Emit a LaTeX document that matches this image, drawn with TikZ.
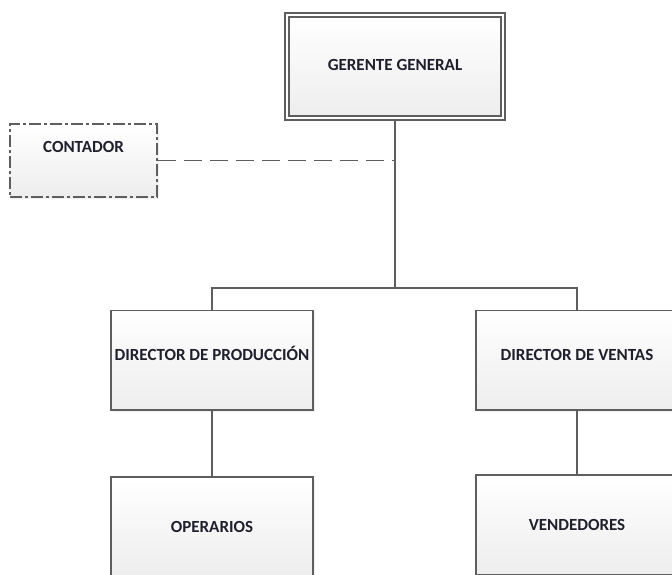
\documentclass[tikz,border=0pt]{standalone}
\usepackage{fontspec}
\setmainfont{Carlito}
\usetikzlibrary{positioning,shadows}
\definecolor{OrgLine}{HTML}{5E5E5E}
\definecolor{OrgText}{HTML}{1F1F2E}

\begin{document}
\begin{tikzpicture}[x=1pt,y=1pt,
  orgbox/.style={draw=OrgLine,line width=1.5pt,top color=white,bottom color=black!7,
    font=\fontsize{17}{20}\selectfont\bfseries,text=OrgText,inner sep=2pt,
    minimum width=202pt,minimum height=99.5pt,text height=12pt,text depth=1pt,
    drop shadow={shadow xshift=2pt,shadow yshift=-2pt,opacity=0.12}},
  link/.style={draw=OrgLine,line width=1.5pt}]
  \useasboundingbox (0,0) rectangle (672,-575);
  \clip (0,0) rectangle (672,-575);
  \node[orgbox,double=white,double distance=2.2pt,line width=1.6pt,outer sep=2.7pt,
    minimum width=216pt,minimum height=103pt,text depth=4pt] (gerente) at (395,-66.5) {GERENTE GENERAL};
  \node[orgbox,dash pattern=on 12pt off 3pt on 3pt off 3pt,minimum width=147pt,
    minimum height=73pt,text depth=28pt] (contador) at (83.5,-160.5) {CONTADOR};
  \node[orgbox,text depth=11pt] (dirprod) at (212,-360.25) {DIRECTOR DE PRODUCCIÓN};
  \node[orgbox,text depth=11pt,right=161.5pt of dirprod] (dirventas) {DIRECTOR DE VENTAS};
  \node[orgbox,minimum height=100pt,below=65.5pt of dirprod] (operarios) {OPERARIOS};
  \node[orgbox,minimum height=100pt,below=63.5pt of dirventas] (vendedores) {VENDEDORES};
  % lineas de mando
  \draw[link] (gerente.south) -- ++(0,-167.3) coordinate (bar);
  \draw[link] (dirprod.north) |- (bar) -| (dirventas.north);
  \draw[link] (dirprod) -- (operarios);
  \draw[link] (dirventas) -- (vendedores);
  \draw[link,dash pattern=on 18pt off 8pt] (contador.east) -- (contador.east -| bar);
\end{tikzpicture}
\end{document}
